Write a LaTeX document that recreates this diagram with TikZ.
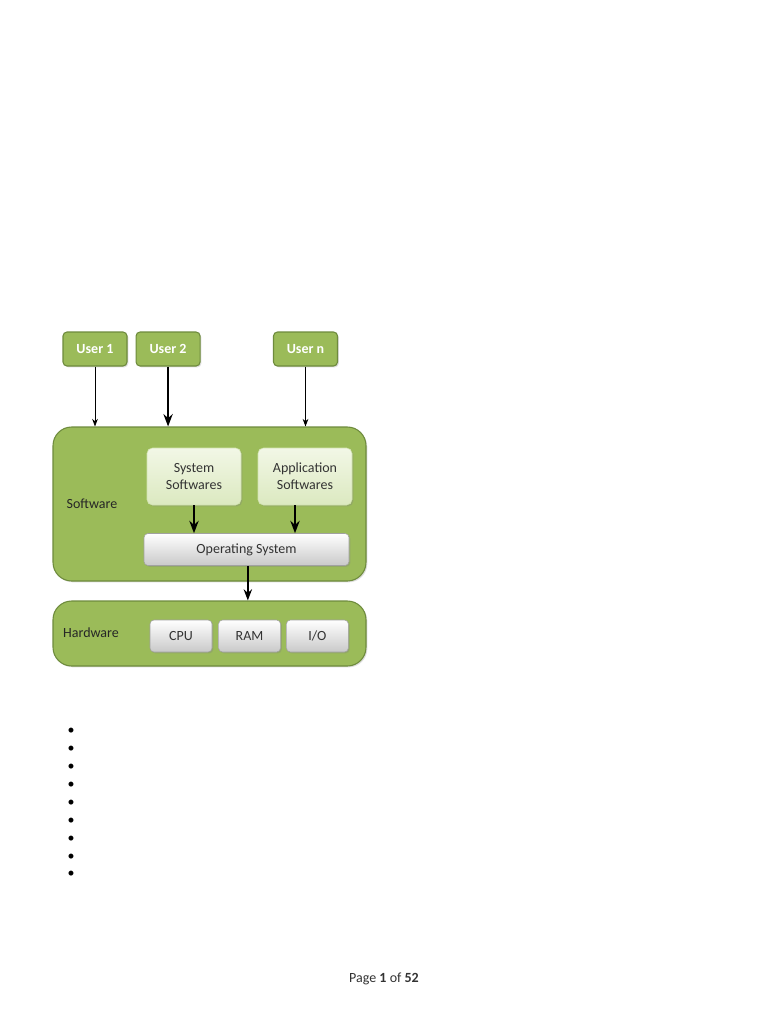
\documentclass[tikz,border=0pt]{standalone}
\usepackage{fontspec}
\setmainfont{Carlito}
\usepackage{xcolor}
\usetikzlibrary{positioning, arrows.meta, shadows}
\definecolor{olive}{HTML}{9BBB59}
\definecolor{olivedark}{HTML}{6E8B3D}
\definecolor{palegreen}{HTML}{F2F7E6}
\definecolor{midgreen}{HTML}{D2E3B0}
\definecolor{boxgray}{HTML}{C9C9C9}
\definecolor{textgray}{HTML}{333333}

\begin{document}
\begin{tikzpicture}[x=0.75pt, y=-0.75pt, >=Stealth,
  every node/.style={font=\fontsize{10.5}{12.6}\selectfont, inner sep=0pt},
  userbox/.style={draw=olivedark, fill=olive, rounded corners=3pt, line width=0.8pt, text=white, font=\fontsize{10.5}{12.6}\selectfont\bfseries, minimum width=48pt, minimum height=25.5pt, drop shadow={opacity=0.25, shadow xshift=1pt, shadow yshift=-1pt}},
  layerbox/.style={draw=olivedark, fill=olive, rounded corners=14pt, line width=0.8pt, minimum width=234.75pt, drop shadow={opacity=0.25, shadow xshift=1pt, shadow yshift=-1pt}},
  softbox/.style={draw=midgreen, top color=palegreen, bottom color=midgreen!70!palegreen, rounded corners=4pt, text=textgray, align=center, minimum width=70.5pt, minimum height=42.75pt, drop shadow={opacity=0.3, shadow xshift=1pt, shadow yshift=-1pt}},
  graybox/.style={draw=boxgray!80!black, top color=white, bottom color=boxgray, rounded corners=3pt, text=textgray, minimum height=24pt, drop shadow={opacity=0.3, shadow xshift=1pt, shadow yshift=-1pt}},
  flow/.style={->, black, line width=0.6pt}]
\useasboundingbox[fill=white] (0,0) rectangle (768,1024);

% Users
\node[userbox] (user1) at (95,349) {User 1};
\node[userbox, right=6pt of user1] (user2) {User 2};
\node[userbox] (usern) at (305.5,349) {User n};

% Software layer
\node[layerbox, minimum height=115.5pt] (software) at (209.5,504) {};
\node[text=black!85] (swlabel) at (92,504) {Software};
\node[softbox] (syssw) at (194,476.5) {System\\Softwares};
\node[softbox] (appsw) at (305,476.5) {Application\\Softwares};
\node[graybox, minimum width=153.75pt] (os) at (246.5,549.5) {Operating System};

% Hardware layer
\node[layerbox, minimum height=48.75pt] (hardware) at (209.5,633.5) {};
\node[text=black!85] (hwlabel) at (91,633) {Hardware};
\node[graybox, minimum width=46.5pt] (cpu) at (181,636) {CPU};
\node[graybox, minimum width=46.5pt, right=4.5pt of cpu] (ram) {RAM};
\node[graybox, minimum width=46.5pt, right=4pt of ram] (io) {I/O};

% Connections
\draw[flow] (user1) -- (user1 |- software.north);
\draw[flow, line width=1.4pt] (user2) -- (user2 |- software.north);
\draw[flow] (usern) -- (usern |- software.north);
\draw[flow, line width=1.4pt] (syssw) -- (syssw |- os.north);
\draw[flow, line width=1.4pt] ([xshift=-7.5pt]appsw.south) -- ([xshift=-7.5pt]appsw.south |- os.north);
\draw[flow, line width=1.2pt] ([xshift=1pt]os.south) -- ([xshift=1pt]os.south |- hardware.north);

% Bullets
\foreach \k in {0,...,8}
  \node (bullet\k) at (71,{731.5+17.9*\k}) {\textbullet};

% Footer
\node[text=textgray] (footer) at (384,979) {Page \textbf{1} of \textbf{52}};
\end{tikzpicture}
\end{document}
